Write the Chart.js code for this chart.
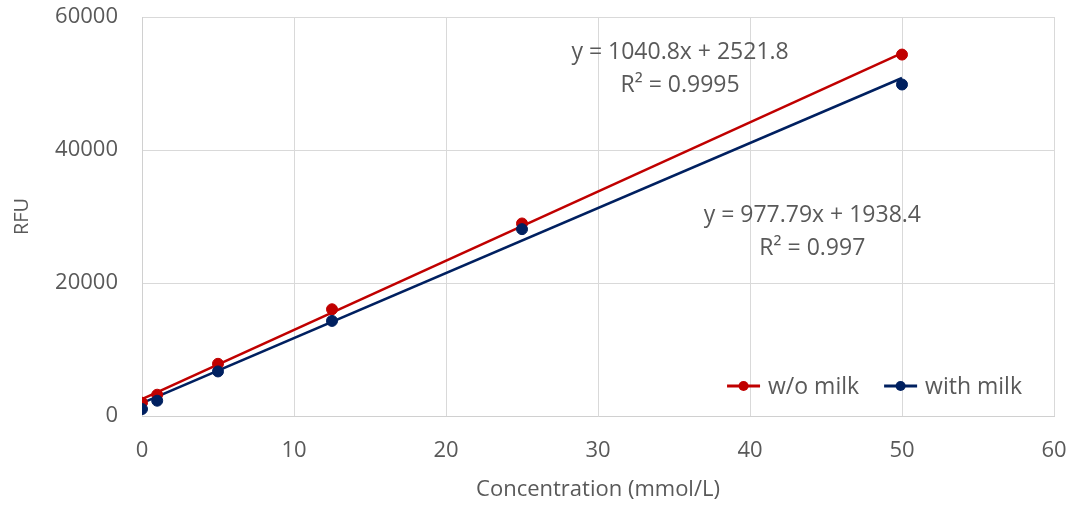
<!DOCTYPE html>
<html>
<head>
<meta charset="utf-8">
<script src="https://cdn.jsdelivr.net/npm/chart.js@4/dist/chart.umd.min.js"></script>
<style>
  html, body { margin: 0; padding: 0; background: #fff; }
  #wrap { width: 1068px; height: 505px; }
</style>
</head>
<body>
<div id="wrap"><canvas id="rfuChart" width="1068" height="505"></canvas></div>
<script>
// concentrations (mmol/L)
var conc = [0, 1, 5, 12.5, 25, 50];
// RFU readings
var noMilk = [2000, 3200, 7850, 16050, 28950, 54350];
var withMilk = [1050, 2300, 6700, 14300, 28100, 49850];

// trendline fits shown on the chart
var fitNoMilk = [1040.8, 2521.8];   // slope, intercept
var fitWithMilk = [977.79, 1938.4];
var fitLabels = [
  ["y = 1040.8x + 2521.8", "R\u00b2 = 0.9995"],
  ["y = 977.79x + 1938.4", "R\u00b2 = 0.997"]
];
var labelAt = [[35.4, 54600], [44.1, 30100]];

var xTicks = [0, 10, 20, 30, 40, 50, 60];
var yTicks = [0, 20000, 40000, 60000];

var red = '#C00000';
var navy = '#002060';
var textGrey = '#595959';
var fontFam = '"Open Sans", "Liberation Sans", sans-serif';

function pts(xs, ys) {
  return xs.map(function (x, i) { return { x: x, y: ys[i] }; });
}
function fitLine(fit) {
  var x0 = conc[0], x1 = conc[conc.length - 1];
  return [{ x: x0, y: fit[0] * x0 + fit[1] }, { x: x1, y: fit[0] * x1 + fit[1] }];
}

// equations + legend drawn on top of the plot
var extras = {
  id: 'extras',
  afterDatasetsDraw: function (chart) {
    var c = chart.ctx, xs = chart.scales.x, ys = chart.scales.y, area = chart.chartArea;
    c.save();
    c.font = '23px ' + fontFam;
    c.fillStyle = textGrey;
    c.textAlign = 'center';
    c.textBaseline = 'middle';
    fitLabels.forEach(function (lines, i) {
      var px = xs.getPixelForValue(labelAt[i][0]);
      var py = ys.getPixelForValue(labelAt[i][1]);
      lines.forEach(function (t, j) { c.fillText(t, px, py + j * 33); });
    });

    // legend, bottom right inside plot area
    var items = [['w/o milk', red], ['with milk', navy]];
    var ly = area.bottom - 30;
    var right = area.right - 32;
    var widths = items.map(function (it) { return c.measureText(it[0]).width; });
    var sym = 33, gap = 8, between = 25;
    var total = 0;
    widths.forEach(function (w, i) { total += sym + gap + w + (i ? between : 0); });
    var lx = right - total;
    c.textAlign = 'left';
    items.forEach(function (it, i) {
      if (i) lx += between;
      c.strokeStyle = it[1];
      c.lineWidth = 3;
      c.beginPath();
      c.moveTo(lx, ly);
      c.lineTo(lx + sym, ly);
      c.stroke();
      c.fillStyle = it[1];
      c.beginPath();
      c.arc(lx + sym / 2, ly, 5, 0, Math.PI * 2);
      c.fill();
      c.fillStyle = textGrey;
      c.fillText(it[0], lx + sym + gap, ly + 1);
      lx += sym + gap + widths[i];
    });
    c.restore();
  }
};

new Chart(document.getElementById('rfuChart'), {
  type: 'scatter',
  data: {
    datasets: [
      {
        label: 'w/o milk trend',
        type: 'line',
        data: fitLine(fitNoMilk),
        borderColor: red,
        borderWidth: 2.5,
        pointRadius: 0,
        fill: false,
        order: 3
      },
      {
        label: 'with milk trend',
        type: 'line',
        data: fitLine(fitWithMilk),
        borderColor: navy,
        borderWidth: 2.5,
        pointRadius: 0,
        fill: false,
        order: 4
      },
      {
        label: 'w/o milk',
        data: pts(conc, noMilk),
        backgroundColor: red,
        borderColor: red,
        pointRadius: 5.5,
        order: 2
      },
      {
        label: 'with milk',
        data: pts(conc, withMilk),
        backgroundColor: navy,
        borderColor: navy,
        pointRadius: 5.5,
        order: 1
      }
    ]
  },
  options: {
    responsive: false,
    animation: false,
    layout: { padding: 0 },
    plugins: {
      legend: { display: false },
      tooltip: { enabled: false }
    },
    scales: {
      x: {
        type: 'linear',
        min: 0,
        max: 60,
        afterBuildTicks: function (s) { s.ticks = xTicks.map(function (v) { return { value: v }; }); },
        afterFit: function (s) { s.height = 89; s.paddingRight = 14; s.paddingLeft = 0; },
        grid: { color: '#d9d9d9', drawTicks: false },
        border: { color: '#d0d0d0' },
        ticks: { color: textGrey, font: { size: 22, family: fontFam }, padding: 22, maxRotation: 0 },
        title: {
          display: true,
          text: 'Concentration (mmol/L)',
          color: textGrey,
          font: { size: 22, family: fontFam },
          padding: { top: 0, bottom: 2 }
        }
      },
      y: {
        min: 0,
        max: 60000,
        afterBuildTicks: function (s) { s.ticks = yTicks.map(function (v) { return { value: v }; }); },
        afterFit: function (s) { s.width = 142; s.paddingTop = 17; s.paddingBottom = 0; },
        grid: { color: '#d9d9d9', drawTicks: false },
        border: { color: '#d0d0d0' },
        ticks: {
          color: textGrey,
          font: { size: 22, family: fontFam },
          padding: 24,
          callback: function (v) { return String(v); }
        },
        title: {
          display: true,
          text: 'RFU',
          color: textGrey,
          font: { size: 20, family: fontFam },
          padding: { top: 10, bottom: 0 }
        }
      }
    }
  },
  plugins: [extras]
});
</script>
</body>
</html>
